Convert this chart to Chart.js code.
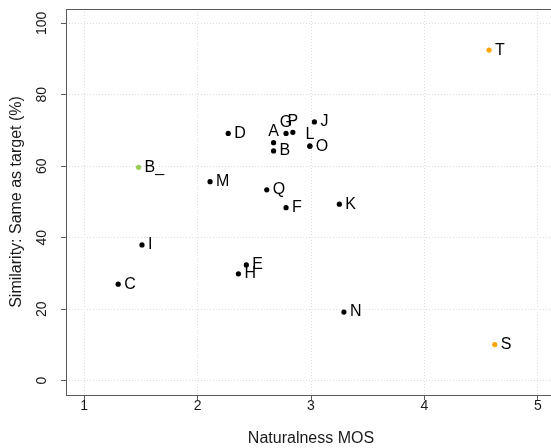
<!DOCTYPE html>
<html>
<head>
<meta charset="utf-8">
<script src="https://cdn.jsdelivr.net/npm/chart.js@4/dist/chart.umd.min.js"></script>
<style>
    html, body { margin: 0; padding: 0; background: #fff; overflow: hidden; }
    #wrap { width: 560px; height: 448px; }
</style>
</head>
<body>
<div id="wrap"><canvas id="chart" width="560" height="448"></canvas></div>
<script>
// voices, naturalness MOS vs. similarity to target
const voiceNames = ["A", "B", "C", "D", "E", "F", "G", "H", "I", "J", "K", "L", "M", "N", "O", "P", "Q", "S", "T", "B_"];
const naturalnessMos = [2.67, 2.67, 1.30, 2.27, 2.43, 2.78, 2.78, 2.36, 1.51, 3.03, 3.25, 2.99, 2.11, 3.29, 2.99, 2.84, 2.61, 4.62, 4.57, 1.48];
const similarityPct = [66.6, 64.3, 27.0, 69.2, 32.4, 48.4, 69.2, 29.9, 38.0, 72.4, 49.4, 65.7, 55.7, 19.2, 65.6, 69.5, 53.4, 10.1, 92.5, 59.7];
const voiceGroup = ["system", "system", "system", "system", "system", "system", "system", "system", "system", "system",
    "system", "system", "system", "system", "system", "system", "system", "natural", "natural", "baseline"];

const xTicks = [1, 2, 3, 4, 5];
const yTicks = [0, 20, 40, 60, 80, 100];

const groupColors = { system: "#000000", natural: "#FFA500", baseline: "#9ACD5A" };
// labels that sit on top of their dot instead of to the right
const labelAbove = ["A", "G", "P", "L"];
const FONT = "'Liberation Sans', Arial, Helvetica, sans-serif";

const points = voiceNames.map((name, i) => ({ x: naturalnessMos[i], y: similarityPct[i], name: name }));

// box round the plot region, like R's bty="o"
const boxPlugin = {
    id: "plotBox",
    afterDraw: (chart) => {
        const { ctx, chartArea } = chart;
        ctx.save();
        ctx.strokeStyle = "#5a5a5a";
        ctx.lineWidth = 1;
        ctx.strokeRect(Math.round(chartArea.left) + 0.5, Math.round(chartArea.top) + 0.5,
            Math.round(chartArea.right - chartArea.left), Math.round(chartArea.bottom - chartArea.top));
        ctx.restore();
    }
};

const labelPlugin = {
    id: "pointNames",
    afterDatasetsDraw: (chart) => {
        const ctx = chart.ctx;
        ctx.save();
        ctx.font = "16px " + FONT;
        ctx.fillStyle = "#000";
        ctx.textBaseline = "middle";
        chart.getDatasetMeta(0).data.forEach((el, i) => {
            const name = points[i].name;
            if (labelAbove.includes(name)) {
                ctx.textAlign = "center";
                ctx.fillText(name, el.x, el.y - 11);
            } else {
                ctx.textAlign = "left";
                ctx.fillText(name, el.x + 6, el.y);
            }
        });
        ctx.restore();
    }
};

const gridStyle = {
    color: "#dcdcdc",
    lineWidth: 1,
    tickColor: "#5a5a5a",
    tickLength: 5,
    drawTicks: true
};

// no extra room for half-labels at the ends of an axis
const noEndPadding = (scale) => {
    scale.paddingTop = 0;
    scale.paddingBottom = 0;
    scale.paddingLeft = 0;
    scale.paddingRight = 0;
};

const chartOptions = {
    type: "scatter",
    data: {
        datasets: [{
            data: points,
            pointRadius: 2.6,
            pointHoverRadius: 2.6,
            pointBorderWidth: 0,
            pointBackgroundColor: voiceGroup.map((g) => groupColors[g])
        }]
    },
    options: {
        responsive: false,
        animation: false,
        layout: { padding: { left: 0, top: 9, right: 4, bottom: 0 } },
        plugins: {
            legend: { display: false },
            tooltip: { enabled: false }
        },
        scales: {
            x: {
                type: "linear",
                min: 0.84,
                max: 5.16,
                afterBuildTicks: (scale) => { scale.ticks = xTicks.map((v) => ({ value: v })); },
                afterFit: (scale) => { scale.height = 53; noEndPadding(scale); },
                grid: gridStyle,
                border: { display: false, dash: [1, 2] },
                ticks: {
                    color: "#1a1a1a",
                    font: { family: FONT, size: 14 },
                    padding: -2,
                    maxRotation: 0
                },
                title: {
                    display: true,
                    text: "Naturalness MOS",
                    color: "#1a1a1a",
                    font: { family: FONT, size: 16 },
                    padding: { top: 0, bottom: 0 }
                }
            },
            y: {
                type: "linear",
                min: -4,
                max: 104,
                afterBuildTicks: (scale) => { scale.ticks = yTicks.map((v) => ({ value: v })); },
                afterFit: (scale) => { scale.width = 66; noEndPadding(scale); },
                grid: gridStyle,
                border: { display: false, dash: [1, 2] },
                ticks: {
                    color: "#1a1a1a",
                    font: { family: FONT, size: 14 },
                    minRotation: 90,
                    maxRotation: 90,
                    crossAlign: "center",
                    padding: 7
                },
                title: {
                    display: true,
                    text: "Similarity: Same as target (%)",
                    color: "#1a1a1a",
                    font: { family: FONT, size: 16 },
                    padding: { top: 7, bottom: 0 }
                }
            }
        }
    },
    plugins: [boxPlugin, labelPlugin]
};

new Chart(document.getElementById("chart").getContext("2d"), chartOptions);
</script>
</body>
</html>
